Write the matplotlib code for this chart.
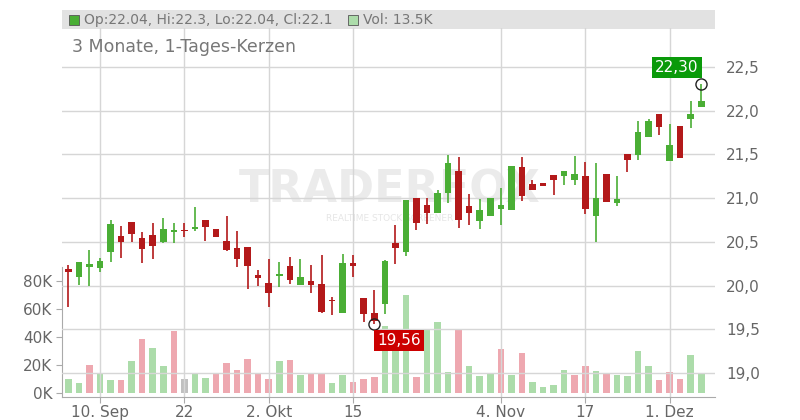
import matplotlib
matplotlib.use("Agg")
import matplotlib.pyplot as plt
from matplotlib.patches import Rectangle

opens  = [20.19,20.10,20.21,20.20,20.38,20.57,20.73,20.54,20.58,20.50,20.61,20.64,20.65,20.75,20.65,20.51,20.43,20.44,20.12,20.03,
          20.11,20.22,20.01,20.05,20.02,19.84,19.69,20.26,19.86,19.69,19.79,20.49,20.38,21.00,20.92,20.83,21.06,21.31,20.91,20.74,
          20.80,20.87,20.86,21.36,21.16,21.17,21.27,21.25,21.21,21.25,20.80,21.28,20.94,21.51,21.49,21.70,21.96,21.43,21.83,21.91,22.04]
highs  = [20.24,20.27,20.41,20.31,20.75,20.68,20.73,20.61,20.72,20.77,20.72,20.72,20.90,20.75,20.65,20.79,20.62,20.44,20.18,20.30,
          20.27,20.33,20.30,20.23,20.35,19.87,20.36,20.35,19.86,19.95,20.29,20.69,20.98,21.00,21.00,21.09,21.49,21.47,21.05,20.99,
          21.00,21.12,21.37,21.47,21.21,21.17,21.27,21.31,21.48,21.41,21.40,21.28,21.25,21.51,21.88,21.91,21.96,21.85,21.83,22.11,22.30]
lows   = [19.75,20.01,20.00,20.15,20.27,20.32,20.50,20.26,20.30,20.49,20.49,20.56,20.62,20.51,20.56,20.39,20.21,19.96,20.00,19.75,
          19.98,20.02,20.01,19.92,19.69,19.66,19.69,20.10,19.58,19.56,19.68,20.25,20.34,20.64,20.70,20.83,20.94,20.66,20.69,20.65,
          20.80,20.69,20.86,20.97,21.09,21.14,21.04,21.15,21.15,20.82,20.50,20.96,20.91,21.30,21.44,21.70,21.72,21.43,21.46,21.80,22.04]
closes = [20.16,20.27,20.25,20.28,20.70,20.50,20.59,20.42,20.45,20.65,20.62,20.62,20.655,20.665,20.56,20.41,20.30,20.22,20.09,19.92,
          20.13,20.06,20.10,20.01,19.70,19.82,20.26,20.22,19.68,19.60,20.28,20.43,20.98,20.72,20.83,21.06,21.40,20.75,20.83,20.86,
          21.00,20.92,21.37,21.02,21.09,21.14,21.21,21.31,21.28,20.87,21.00,20.96,20.99,21.44,21.76,21.88,21.81,21.61,21.46,21.96,22.11]
volumes = [10.0,7.1,20.0,13.6,9.3,9.3,22.9,38.6,32.1,19.3,44.3,10.0,14.3,10.7,13.6,21.4,16.4,24.3,14.3,10.0,
           22.9,23.6,12.9,13.6,14.3,7.1,12.9,7.9,10.0,11.4,48.0,46.0,70.0,11.7,45.5,50.7,15.0,45.5,19.3,12.1,
           13.6,31.4,12.9,28.6,7.9,4.3,5.7,16.4,12.9,19.3,15.7,13.6,12.9,12.1,30.0,19.3,9.3,15.0,10.0,27.0,14.3]
date_ticks = [3, 11, 19, 27, 41, 49, 57]
date_labels = ["10. Sep", "22", "2. Okt", "15", "4. Nov", "17", "1. Dez"]
price_ticks = [19.0, 19.5, 20.0, 20.5, 21.0, 21.5, 22.0, 22.5]
vol_ticks = [0, 20, 40, 60, 80]
last_vol_label = "13.5K"

GREEN, RED = "#4aae35", "#b3191a"
VGREEN, VRED, VGRAY = "#acdcaa", "#eea8b0", "#c0c0c0"

fig = plt.figure(figsize=(8, 4.2), dpi=100)
W, H = 800, 420
L, R, T, B = 62, 715, 28, 397
ax = fig.add_axes([L/W, 1-B/H, (R-L)/W, (B-T)/H])
axv = ax.twinx()
ax.set_zorder(2); ax.patch.set_visible(False)
axv.set_zorder(1)

n = len(opens)
ax.set_xlim(-0.6, 61.3)
ax.set_ylim(18.725, 22.946)
axv.set_ylim(-2.86, 260.7)

for i, v in enumerate(volumes):
    if i == 0 or closes[i] > closes[i-1] + 1e-9:
        c = VGREEN
    elif closes[i] < closes[i-1] - 1e-9:
        c = VRED
    else:
        c = VGRAY
    axv.bar(i, v, width=0.62, color=c, zorder=1)

for i in range(n):
    c = GREEN if closes[i] >= opens[i] else RED
    ax.vlines(i, lows[i], highs[i], color=c, lw=1.2, zorder=3)
    lo, hi = min(opens[i], closes[i]), max(opens[i], closes[i])
    ax.add_patch(Rectangle((i-0.31, lo), 0.62, max(hi-lo, 0.02), color=c, zorder=4, lw=0))

for p in price_ticks:
    ax.axhline(p, color="#d6d6d6", lw=1, zorder=0)
for t in date_ticks:
    ax.axvline(t, color="#d6d6d6", lw=1, zorder=0)

ax.set_xticks(date_ticks)
ax.set_xticklabels(date_labels, fontsize=11, color="#666666")
ax.yaxis.tick_right()
ax.set_yticks(price_ticks)
ax.set_yticklabels([f"{p:.1f}".replace(".", ",") for p in price_ticks], fontsize=11, color="#666666")
ax.tick_params(axis="y", length=0, pad=8)
ax.tick_params(axis="x", length=4, color="#aaaaaa", pad=2)
axv.yaxis.tick_left()
axv.set_yticks(vol_ticks)
axv.set_yticklabels([f"{v}K" for v in vol_ticks], fontsize=11, color="#666666")
axv.tick_params(axis="y", length=4, color="#aaaaaa", pad=3)
for a in (ax, axv):
    for s in a.spines.values():
        s.set_visible(False)
ax.spines["bottom"].set_visible(True); ax.spines["bottom"].set_color("#aaaaaa")
axv.spines["left"].set_visible(True); axv.spines["left"].set_color("#aaaaaa")
axv.spines["left"].set_bounds(-2.86, 90)

# watermark
fig.text(390/W, 1-190/H, "TRADERFOX", fontsize=32, fontweight="bold", color="#ebebeb",
         ha="center", va="center", zorder=0.5)
fig.text(390/W, 1-218/H, "REALTIME STOCK SCREENER", fontsize=6.5, color="#e6e6e6",
         ha="center", va="center", zorder=0.5)

imax = max(range(n), key=lambda i: highs[i])
imin = min(range(n), key=lambda i: lows[i])
ax.plot(imax, highs[imax], marker="o", ms=8, mfc="none", mec="#222222", mew=1, zorder=6)
ax.plot(imin, lows[imin], marker="o", ms=8, mfc="none", mec="#222222", mew=1, zorder=6)
ax.annotate(f"{highs[imax]:.2f}".replace(".", ","), (imax, highs[imax]), xytext=(-2, 12),
            textcoords="offset points", ha="right", va="center", fontsize=11, color="white",
            bbox=dict(boxstyle="square,pad=0.2", fc="#0a9a0a", ec="none"), zorder=7)
ax.annotate(f"{lows[imin]:.2f}".replace(".", ","), (imin, lows[imin]), xytext=(2, -12),
            textcoords="offset points", ha="left", va="center", fontsize=11, color="white",
            bbox=dict(boxstyle="square,pad=0.2", fc="#cc0000", ec="none"), zorder=7)

fig.patches.append(Rectangle((L/W, 1-29/H), (R-L)/W, 19/H, transform=fig.transFigure,
                             fc="#e2e2e2", ec="none", zorder=0))
fig.patches.append(Rectangle((69/W, 1-25/H), 10/W, 10/H, transform=fig.transFigure,
                             fc=GREEN, ec="#555555", lw=0.6))
fig.text(84/W, 1-20/H, f"Op:{opens[-1]:g}, Hi:{highs[-1]:g}, Lo:{lows[-1]:g}, Cl:{round(closes[-1],1):g}",
         fontsize=10, color="#777777", va="center")
fig.patches.append(Rectangle((348/W, 1-25/H), 10/W, 10/H, transform=fig.transFigure,
                             fc=VGREEN, ec="#555555", lw=0.6))
fig.text(363/W, 1-20/H, f"Vol: {last_vol_label}", fontsize=10, color="#777777", va="center")
fig.text(72/W, 1-47/H, "3 Monate, 1-Tages-Kerzen", fontsize=12.5, color="#777777", va="center")

fig.savefig("out.png", dpi=100)
